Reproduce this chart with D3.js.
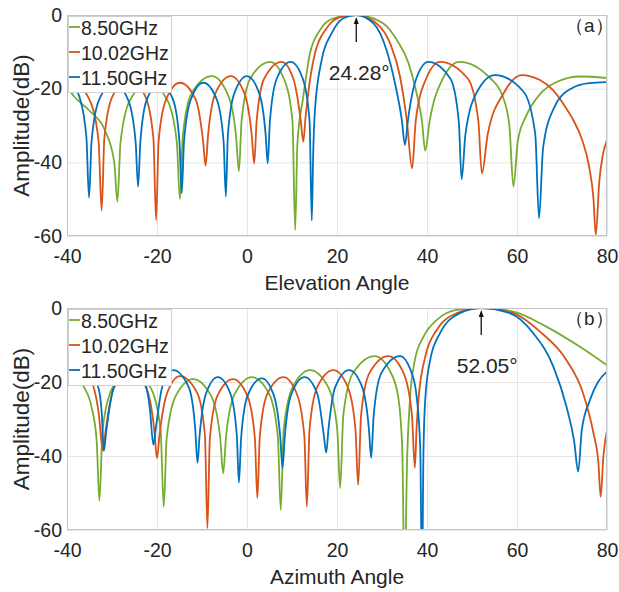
<!DOCTYPE html>
<html>
<head>
<meta charset="utf-8">
<script src="https://cdn.jsdelivr.net/npm/d3@7"></script>
<style>
  body { margin: 0; background: #fff; }
  text { font-family: "Liberation Sans", Arial, sans-serif; fill: #262626; }
</style>
</head>
<body>
<svg id="chart" width="619" height="592"></svg>
<script>
// tick values and legend labels
const xTicks = [-40, -20, 0, 20, 40, 60, 80];
const yTicks = [0, -20, -40, -60];
const freqLabels = ["8.50GHz", "10.02GHz", "11.50GHz"];

// (a) elevation cut, [angle, dB]
const elevGreen = [
  [-40, -19.5], [-38.5, -22], [-35, -26], [-31.5, -31.5], [-29.5, -40], [-28.8, -50.7],
  [-28.1, -34.5], [-26.0, -23.1], [-21.8, -18.5], [-17.7, -23.1], [-15.6, -34.5], [-14.9, -50.0],
  [-14.25, -32.6], [-12.3, -21.2], [-7.8, -16.6], [-4.4, -21.2], [-2.45, -32.6], [-1.8, -42.4],
  [-1.2, -28.7], [0.7, -17.3], [5.1, -12.7], [8.2, -17.3], [10.1, -28.7], [10.7, -58.4],
  [11.2, -35], [12.5, -22.2], [14.0, -10.4], [16.2, -4.1], [19.2, -0.9], [24.28, 0],
  [30.3, -2.3], [33.3, -6.8], [35.9, -13.1], [37.7, -21.3], [38.9, -29], [39.6, -36.8],
  [40.6, -28.7], [43.5, -17.3], [47.2, -12.7], [54.0, -17.1], [56.8, -22], [58.3, -30], [59.2, -46.6],
  [60.2, -34], [62.2, -27], [65.1, -21.5], [68.8, -18.2], [74, -16.7], [80, -17.1]
];
const elevOrange = [
  [-40, -18.5], [-38.8, -18.3], [-35.2, -22.5], [-33.0, -34], [-32.3, -53.1],
  [-31.7, -33.5], [-29.9, -22.1], [-26.2, -17.5], [-22.6, -22.1], [-20.8, -33.5], [-20.2, -55.7],
  [-19.65, -34.4], [-18.0, -23.0], [-14.9, -18.4], [-11.4, -23.0], [-9.75, -34.4], [-9.2, -40.9],
  [-8.65, -32.6], [-7.0, -21.2], [-3.6, -16.6], [-0.6, -21.2], [1.05, -32.6], [1.6, -40.3],
  [2.15, -28.7], [3.8, -17.3], [7.7, -12.7], [10.3, -17.3], [11.95, -28.7], [12.5, -34.4],
  [13.0, -28], [13.6, -21.3], [15.1, -10.4], [17.7, -3.6], [20.7, -0.6], [24.28, 0],
  [28.8, -2.3], [31.8, -7.7], [34.0, -16.7], [35.5, -28.5], [36.7, -41.6],
  [37.5, -28.7], [39.8, -17.3], [42.9, -12.7], [49.1, -17.3], [51.4, -28.7], [52.2, -43.0],
  [53.5, -32.3], [57.2, -20.9], [61.0, -16.3], [65, -17.6], [68, -20.4], [70.5, -24.5],
  [72.5, -28.5], [74.5, -34], [76, -41], [77.0, -50], [77.5, -59.7],
  [78.3, -45], [79, -38.5], [80, -33.9]
];
const elevBlue = [
  [-40, -18.5], [-38.5, -19.5], [-37.3, -22.0], [-35.7, -33], [-35.1, -49.6],
  [-34.55, -34.5], [-32.9, -23.1], [-29.6, -18.5], [-26.4, -23.1], [-24.75, -34.5], [-24.2, -46.6],
  [-23.7, -34.5], [-22.3, -23.1], [-19.35, -18.5], [-16.4, -23.1], [-15.0, -34.5], [-14.5, -48.4],
  [-14.0, -34.4], [-12.5, -23.0], [-9.7, -18.4], [-6.7, -23.0], [-5.2, -34.4], [-4.7, -49.3],
  [-4.25, -32.6], [-2.8, -21.2], [0.0, -16.6], [2.7, -21.2], [4.15, -32.6], [4.6, -40.3],
  [5.1, -28.7], [6.6, -17.3], [9.7, -12.7], [12.4, -17.3], [13.9, -28.7], [14.4, -55.8],
  [14.7, -38], [15.1, -25.8], [16.6, -12.2], [18.8, -5.0], [21.4, -0.9], [24.28, 0],
  [28.1, -2.3], [31.0, -9.5], [32.9, -18.6], [34.4, -28.5], [35.1, -35.3],
  [35.75, -28.7], [37.6, -17.3], [40.3, -12.7], [45.2, -17.3], [47.05, -28.7], [47.7, -44.6],
  [48.55, -32.3], [51.1, -20.9], [55.1, -16.3], [61.5, -20.9], [64.05, -32.3], [64.9, -55.2],
  [65.8, -36], [68.3, -25], [72, -20], [76, -18.5], [80, -18.2]
];

// (b) azimuth cut, [angle, dB]
const aziGreen = [
  [-40, -17.5], [-38, -18], [-36.4, -21], [-34.5, -27], [-33.4, -36], [-32.8, -52.1],
  [-32.1, -33], [-29.9, -21.6], [-25.7, -17], [-21.4, -21.6], [-19.2, -33], [-18.5, -53.7],
  [-17.85, -35.2], [-15.85, -23.8], [-12.0, -19.2], [-7.95, -23.8], [-5.95, -35.2], [-5.3, -44.7],
  [-4.65, -34.7], [-2.75, -23.3], [1.1, -18.7], [4.95, -23.3], [6.85, -34.7], [7.5, -54.6],
  [8.15, -32.8], [10.15, -21.4], [14.0, -16.8], [18.05, -21.4], [20.05, -32.8], [20.7, -48.7],
  [21.4, -29], [23.55, -17.6], [28.4, -13.0], [32.0, -17.6], [33.6, -24], [34.5, -38], [35.0, -75],
  [35.6, -40], [36.2, -24.9], [37.3, -14.1], [39.2, -7.8], [42.2, -3.2], [46.6, -0.5], [52.05, 0],
  [59.2, -1.0], [66.6, -5.1], [74.0, -10.5], [80, -15.5]
];
const aziOrange = [
  [-40, -17], [-36, -18], [-34.2, -21], [-33, -28], [-32.0, -38.6],
  [-31.4, -33], [-29.6, -21.6], [-26, -17], [-22.4, -21.6], [-20.6, -33], [-20.0, -40.6],
  [-19.45, -34.4], [-17.75, -23.0], [-14.9, -18.4], [-11.05, -23.0], [-9.35, -34.4], [-8.8, -59.5],
  [-8.25, -35.2], [-6.6, -23.8], [-3.1, -19.2], [0.1, -23.8], [1.75, -35.2], [2.3, -51.4],
  [2.85, -34.7], [4.5, -23.3], [8.1, -18.7], [11.1, -23.3], [12.75, -34.7], [13.3, -53.7],
  [13.9, -32.8], [15.6, -21.4], [19.2, -16.8], [22.4, -21.4], [24.1, -32.8], [24.7, -47.8],
  [25.35, -29], [27.2, -17.6], [31.4, -13.0], [34.8, -17.6], [36.65, -29], [37.3, -43.2],
  [37.7, -32], [38.1, -24.9], [39.6, -13.2], [42.2, -5.9], [46.6, -1.4], [52.05, 0],
  [59.2, -1.4], [65.1, -6.4], [71.0, -14.1], [74.7, -23.1], [77.0, -33.9], [78.1, -42], [78.6, -51.0],
  [79.2, -40], [80, -33.0]
];
const aziBlue = [
  [-40, -17], [-36, -17.5], [-33.2, -21], [-32.3, -28], [-31.8, -38.6],
  [-31.25, -33], [-29.6, -21.6], [-26.3, -17], [-23.0, -19.5], [-21.6, -27], [-20.8, -37.0],
  [-20.3, -32.8], [-18.85, -21.4], [-16.4, -16.8], [-12.95, -21.4], [-11.5, -32.8], [-11.0, -41.8],
  [-10.55, -34.7], [-9.15, -23.3], [-6.5, -18.7], [-3.65, -23.3], [-2.25, -34.7], [-1.8, -47.2],
  [-1.3, -35], [0.15, -23.6], [3.3, -19.0], [5.95, -23.6], [7.4, -35], [7.9, -43.2],
  [8.4, -34.7], [9.85, -23.3], [12.8, -18.7], [15.65, -23.3], [17.1, -34.7], [17.6, -39.1],
  [18.1, -32.8], [19.6, -21.4], [22.7, -16.8], [25.6, -21.4], [27.1, -32.8], [27.6, -40.5],
  [28.15, -29], [29.85, -17.6], [34.0, -13.0], [36.6, -17.6], [37.7, -24], [38.5, -38], [38.9, -75],
  [39.2, -40], [39.6, -24.9], [40.7, -14.1], [42.9, -6.8], [47.3, -1.4], [52.05, 0],
  [58.4, -1.4], [63.6, -6.8], [68.1, -15.9], [71.0, -26.7], [72.7, -36], [73.6, -44.2],
  [74.4, -33], [76.2, -24.9], [78, -20], [80, -17.2]
];

const colors = ["#77AC30", "#D95319", "#0072BD"];
const svg = d3.select("#chart");
const left = 67, right = 607;

function drawPanel(p) {
  const x = d3.scaleLinear().domain([-40, 80]).range([left, right]);
  const y = d3.scaleLinear().domain([-60, 0]).range([p.bottom, p.top]);
  const h = p.bottom - p.top;

  // grid
  const gx = svg.append("g")
    .attr("transform", `translate(0,${p.bottom})`)
    .call(d3.axisBottom(x).tickValues(xTicks).tickSize(-h).tickFormat(""));
  const gy = svg.append("g")
    .attr("transform", `translate(${left},0)`)
    .call(d3.axisLeft(y).tickValues(yTicks).tickSize(-(right - left)).tickFormat(""));
  [gx, gy].forEach((g) => {
    g.select(".domain").remove();
    g.selectAll("line").attr("stroke", "#e6e6e6");
  });

  // curves
  const clipId = "clip-" + p.tag;
  svg.append("clipPath").attr("id", clipId)
    .append("rect").attr("x", left).attr("y", p.top)
    .attr("width", right - left).attr("height", h);
  const line = d3.line()
    .x((d) => x(d[0]))
    .y((d) => y(d[1]))
    .curve(d3.curveMonotoneX);
  const lines = svg.append("g").attr("clip-path", `url(#${clipId})`);
  p.series.forEach((s, i) => {
    lines.append("path")
      .datum(s)
      .attr("fill", "none")
      .attr("stroke", colors[i])
      .attr("stroke-width", 1.8)
      .attr("d", line);
  });

  // frame
  svg.append("rect")
    .attr("x", left + 0.5).attr("y", p.top + 0.5)
    .attr("width", right - left - 1).attr("height", h - 1)
    .attr("fill", "none").attr("stroke", "#c4c4c4");

  // tick labels
  const ax = svg.append("g")
    .attr("transform", `translate(0,${p.bottom})`)
    .call(d3.axisBottom(x).tickValues(xTicks).tickSize(0).tickPadding(13).tickFormat((d) => String(d)));
  const ay = svg.append("g")
    .attr("transform", `translate(${left},0)`)
    .call(d3.axisLeft(y).tickValues(yTicks).tickSize(0).tickPadding(5).tickFormat((d) => String(d)));
  [ax, ay].forEach((g) => {
    g.select(".domain").remove();
    g.selectAll("text").attr("font-size", 19.5).attr("fill", "#262626")
      .attr("font-family", '"Liberation Sans", Arial, sans-serif');
  });

  // axis titles
  svg.append("text")
    .attr("x", 337).attr("y", p.bottom + 54)
    .attr("text-anchor", "middle").attr("font-size", 21)
    .text(p.xLabel);
  svg.append("text")
    .attr("transform", `translate(29,${(p.top + p.bottom) / 2}) rotate(-90)`)
    .attr("text-anchor", "middle").attr("font-size", 22.5)
    .text("Amplitude(dB)");

  // legend
  const lg = svg.append("g");
  lg.append("rect")
    .attr("x", left + 1.5).attr("y", p.top + 1.5)
    .attr("width", 103).attr("height", 76)
    .attr("fill", "#fff").attr("stroke", "#d0d0d0");
  freqLabels.forEach((lab, i) => {
    const ly = p.top + 12 + 25 * i;
    lg.append("line")
      .attr("x1", left + 2).attr("x2", left + 13)
      .attr("y1", ly).attr("y2", ly)
      .attr("stroke", colors[i]).attr("stroke-width", 1.8);
    lg.append("text")
      .attr("x", left + 14).attr("y", ly + 8)
      .attr("font-size", 19.5)
      .text(lab);
  });

  // peak arrow and label
  const px = x(p.peak);
  svg.append("line")
    .attr("x1", px).attr("x2", px)
    .attr("y1", p.top + 27).attr("y2", p.top + 6)
    .attr("stroke", "#111").attr("stroke-width", 1.3);
  svg.append("path")
    .attr("d", `M${px},${p.top + 2}L${px - 2.5},${p.top + 9}L${px + 2.5},${p.top + 9}Z`)
    .attr("fill", "#111");
  svg.append("text")
    .attr("x", px + p.labelDx).attr("y", p.top + p.labelDy)
    .attr("text-anchor", "middle").attr("font-size", 21)
    .attr("fill", "#111")
    .text(p.peakLabel);

  // panel tag
  svg.append("text")
    .attr("x", 565).attr("y", p.top + 17)
    .attr("font-size", 19)
    .attr("font-family", '"Noto Sans CJK SC", sans-serif')
    .text(p.tag);
}

drawPanel({
  top: 15, bottom: 236,
  series: [elevGreen, elevOrange, elevBlue],
  xLabel: "Elevation Angle",
  peak: 24.28, peakLabel: "24.28°", labelDx: 3, labelDy: 65,
  tag: "（a）"
});
drawPanel({
  top: 308, bottom: 530,
  series: [aziGreen, aziOrange, aziBlue],
  xLabel: "Azimuth Angle",
  peak: 52.05, peakLabel: "52.05°", labelDx: 6, labelDy: 65,
  tag: "（b）"
});
</script>
</body>
</html>
